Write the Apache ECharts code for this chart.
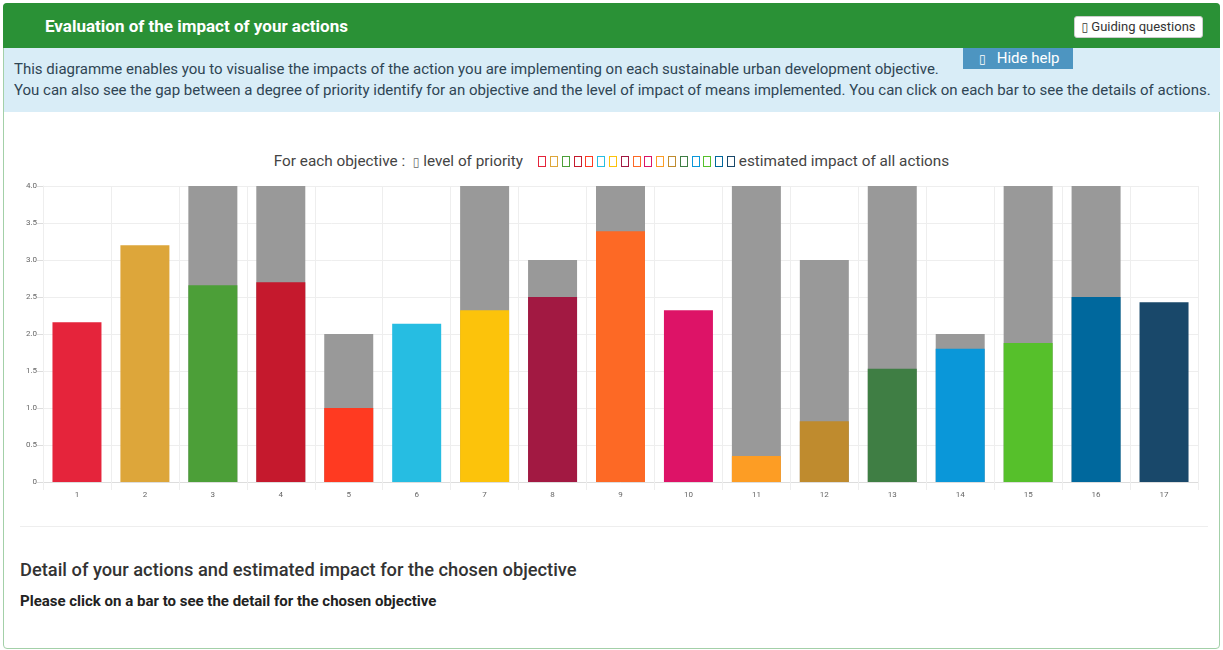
<!DOCTYPE html>
<html>
<head>
<meta charset="utf-8">
<script src="https://cdn.jsdelivr.net/npm/echarts@6/dist/echarts.min.js"></script>
<style>
  html, body { margin: 0; padding: 0; background: #fff; font-family: Roboto, "Noto Sans", sans-serif; }
  #page { position: relative; width: 1223px; height: 650px; overflow: hidden; }
  .panel { position: absolute; left: 3px; top: 3px; width: 1215px; height: 644px; border: 1px solid #a3d0a8; border-radius: 4px; }
  .head { position: absolute; left: 3px; top: 3px; width: 1217px; height: 45px; background: #2a9136; border-radius: 4px 4px 0 0; }
  .head .title { position: absolute; left: 42px; top: 13px; color: #fff; font-size: 17px; font-weight: bold; }
  .guide { position: absolute; left: 1071px; top: 13px; width: 127px; height: 20px; background: #fff; border: 1px solid #ccc; border-radius: 3px; font-size: 13px; color: #333; line-height: 20px; text-align: center; }
  .help { position: absolute; left: 4px; top: 48px; width: 1216px; height: 64px; background: #d9edf7; }
  .help p { position: absolute; left: 10px; margin: 0; font-size: 15px; color: #2f4554; white-space: nowrap; }
  .hide { position: absolute; left: 959px; top: 0; width: 110px; height: 21px; background: #4d95c1; color: #fff; font-size: 15px; line-height: 21px; }
  .tofu { font-family: "DejaVu Sans"; font-size: 12px; }
  .legend { position: absolute; left: 0; top: 152px; width: 1223px; text-align: center; font-size: 15.3px; color: #444; white-space: nowrap; }
  .legend .sq { display: inline-block; width: 6px; height: 9px; border: 1px solid; margin-right: 3.8px; vertical-align: -1px; }
  #chart { position: absolute; left: 0; top: 176px; width: 1223px; height: 330px; }
  .sep { position: absolute; left: 20px; top: 526px; width: 1188px; height: 1px; background: #eee; }
  .detail { position: absolute; left: 20px; top: 559px; font-size: 18.3px; color: #333; font-weight: 500; }
  .click { position: absolute; left: 20px; top: 592px; font-size: 15px; color: #222; font-weight: bold; }
</style>
</head>
<body>
<div id="page">
  <div class="panel"></div>
  <div class="head">
    <div class="title">Evaluation of the impact of your actions</div>
    <div class="guide"><span class="tofu">▯</span> Guiding questions</div>
  </div>
  <div class="help">
    <p style="top:12px">This diagramme enables you to visualise the impacts of the action you are implementing on each sustainable urban development objective.</p>
    <p style="top:33px">You can also see the gap between a degree of priority identify for an objective and the level of impact of means implemented. You can click on each bar to see the details of actions.</p>
    <div class="hide"><span class="tofu" style="margin-left:16px">▯</span>&nbsp;&nbsp; Hide help</div>
  </div>
  <div class="legend" id="legend"></div>
  <div id="chart"></div>
  <div class="sep"></div>
  <div class="detail">Detail of your actions and estimated impact for the chosen objective</div>
  <div class="click">Please click on a bar to see the detail for the chosen objective</div>
</div>
<script>
// objectifs 1..17
const categories = ['1', '2', '3', '4', '5', '6', '7', '8', '9', '10', '11', '12', '13', '14', '15', '16', '17'];
// niveau de priorité (barre grise)
const priority = [0, 0, 4, 4, 2, 0, 4, 3, 4, 0, 4, 3, 4, 2, 4, 4, 0];
// impact estimé de toutes les actions
const impact = [2.16, 3.2, 2.66, 2.7, 1.0, 2.14, 2.32, 2.5, 3.39, 2.32, 0.35, 0.82, 1.53, 1.8, 1.88, 2.5, 2.43];
const sdgColors = ['#e5243b', '#dda63a', '#4c9f38', '#c5192d', '#ff3a21', '#26bde2', '#fcc30b', '#a21942',
  '#fd6925', '#dd1367', '#fd9d24', '#bf8b2e', '#3f7e44', '#0a97d9', '#56c02b', '#00689d', '#19486a'];

// légende en haut
let leg = 'For each objective : &nbsp;<span class="tofu" style="color:#666">▯</span> level of priority &nbsp;&nbsp;&nbsp;';
sdgColors.forEach(c => { leg += '<span class="sq" style="border-color:' + c + '"></span>'; });
leg += 'estimated impact of all actions';
document.getElementById('legend').innerHTML = leg;

const chart = echarts.init(document.getElementById('chart'), null, { renderer: 'canvas' });
chart.setOption({
  animation: false,
  grid: { left: 43, right: 25, top: 10, bottom: 24 },
  xAxis: {
    type: 'category',
    data: categories,
    axisLine: { lineStyle: { color: '#ddd' } },
    axisTick: { show: true, length: 8, lineStyle: { color: '#eee' } },
    splitLine: { show: true, lineStyle: { color: '#eee' } },
    axisLabel: { fontSize: 8, color: '#666', fontFamily: 'Roboto', margin: 9 }
  },
  yAxis: {
    type: 'value',
    min: 0,
    max: 4,
    interval: 0.5,
    axisLine: { show: true, lineStyle: { color: '#eee' } },
    axisTick: { show: true, length: 6, lineStyle: { color: '#ddd' } },
    splitLine: { lineStyle: { color: '#eee' } },
    axisLabel: {
      fontSize: 8, color: '#666', fontFamily: 'Roboto', margin: 6,
      formatter: v => (v === 0 ? '0' : v.toFixed(1))
    }
  },
  series: [
    {
      name: 'level of priority',
      type: 'bar',
      barWidth: 49,
      data: priority,
      itemStyle: { color: '#999999' }
    },
    {
      name: 'estimated impact of all actions',
      type: 'bar',
      barWidth: 49,
      barGap: '-100%',
      data: impact.map((v, i) => ({ value: v, itemStyle: { color: sdgColors[i] } }))
    }
  ]
});
</script>
</body>
</html>
